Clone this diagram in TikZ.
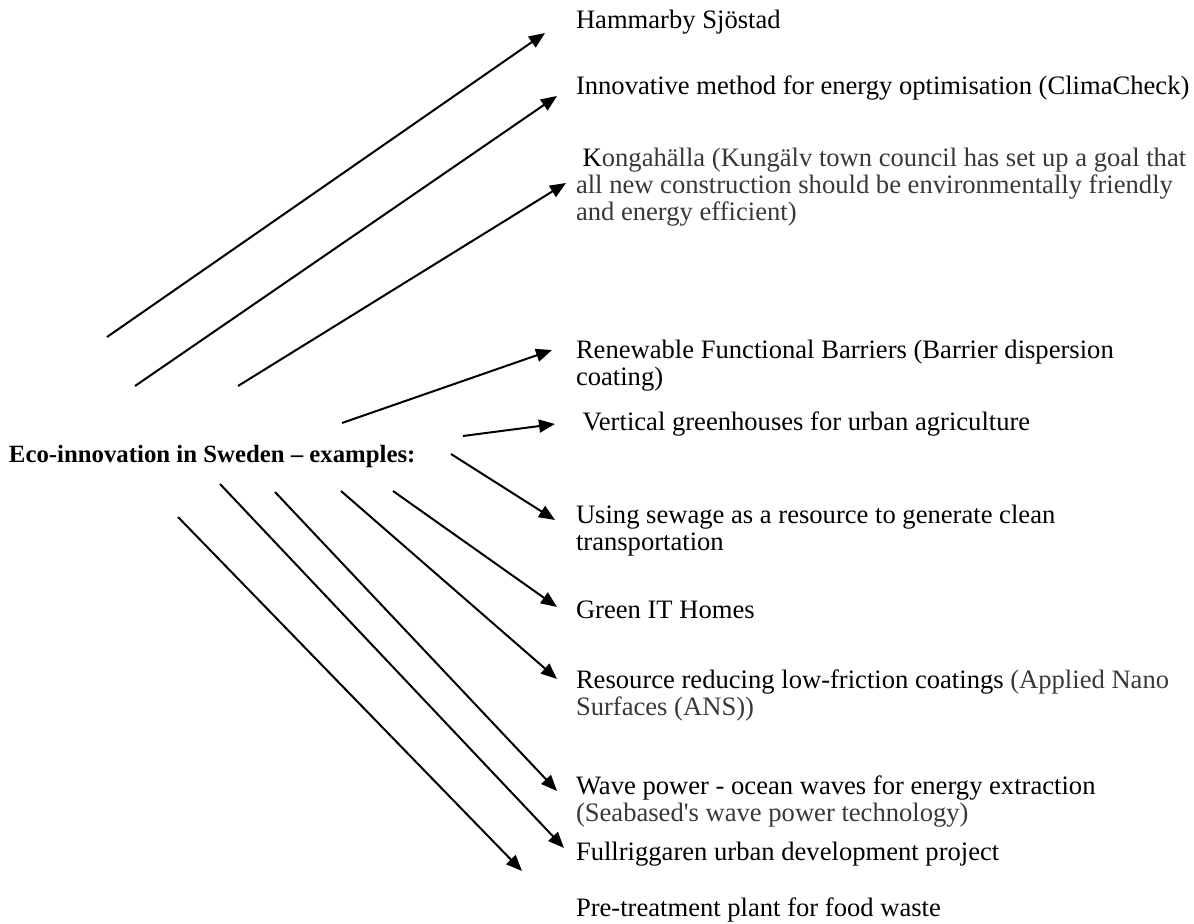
\documentclass[tikz,border=0pt]{standalone}
\usepackage{fontspec}
\setmainfont{Liberation Serif}
\usetikzlibrary{arrows.meta}
\colorlet{softink}{black!78}

\begin{document}
\begin{tikzpicture}[x=0.5pt,y=-0.5pt,>={Triangle[length=8pt,width=6.5pt]},
  line width=1pt]
  \tikzstyle{example}=[anchor=west,inner sep=0pt,align=left,
    font=\fontsize{13.3}{13.5}\selectfont]
  \tikzstyle{link}=[->]
  \useasboundingbox (0,0) rectangle (1194,924);

  % title
  \node[example,font=\fontsize{12.4}{13.5}\selectfont\bfseries] (title) at (8,457)
    {Eco-innovation in Sweden -- examples:};

  % examples
  \node[example] (hammarby) at (575,22) {Hammarby Sjöstad};
  \node[example] (clima)    at (575,88) {Innovative method for energy optimisation (ClimaCheck)};
  \node[example] (konga)    at (575,187) {\ K\textcolor{softink}{ongahälla (Kungälv town council has set up a goal that}\\
    \textcolor{softink}{all new construction should be environmentally friendly}\\
    \textcolor{softink}{and energy efficient)}};
  \node[example] (barrier)  at (575,366) {Renewable Functional Barriers (Barrier dispersion\\coating)};
  \node[example] (vertical) at (575,424) {\ Vertical greenhouses for urban agriculture};
  \node[example] (sewage)   at (575,531) {Using sewage as a resource to generate clean\\transportation};
  \node[example] (greenit)  at (575,610) {Green IT Homes};
  \node[example] (coating)  at (575,695) {Resource reducing low-friction coatings \textcolor{softink}{(Applied Nano}\\
    \textcolor{softink}{Surfaces (ANS))}};
  \node[example] (wave)     at (575,802) {Wave power - ocean waves for energy extraction\\
    \textcolor{softink}{(Seabased\textquotesingle s wave power technology)}};
  \node[example] (fullrigg) at (575,854) {Fullriggaren urban development project};
  \node[example] (food)     at (575,910) {Pre-treatment plant for food waste};

  % arrow ends
  \coordinate (s1) at (107,337);  \coordinate (e1) at (545,33);
  \coordinate (s2) at (135,386);  \coordinate (e2) at (557,96);
  \coordinate (s3) at (238,386);  \coordinate (e3) at (566,183);
  \coordinate (s4) at (342,423);  \coordinate (e4) at (552,350);
  \coordinate (s5) at (463,436);  \coordinate (e5) at (555,424);
  \coordinate (s6) at (451,454);  \coordinate (e6) at (555,520);
  \coordinate (s7) at (393,491);  \coordinate (e7) at (557,607);
  \coordinate (s8) at (341,491);  \coordinate (e8) at (557,679);
  \coordinate (s9) at (275,492);  \coordinate (e9) at (557,791);
  \coordinate (s10) at (220,484); \coordinate (e10) at (564,848);
  \coordinate (s11) at (178,517); \coordinate (e11) at (522,871);

  \foreach \i in {1,...,11}
    \draw[link] (s\i) -- (e\i);
\end{tikzpicture}
\end{document}
